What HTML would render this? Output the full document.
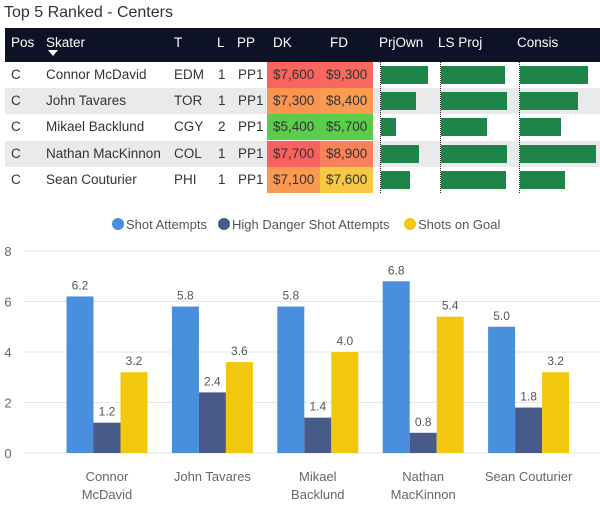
<!DOCTYPE html>
<html><head><meta charset="utf-8"><style>
body{margin:0;width:600px;height:513px;background:#fff;font-family:"Liberation Sans",sans-serif;position:relative;overflow:hidden}
.a{position:absolute;white-space:nowrap}
</style></head><body>
<div class="a" style="left:4px;top:4px;font-size:16px;color:#333">Top 5 Ranked - Centers</div>
<div id="tbl"></div>
<svg id="ch" width="600" height="513" style="position:absolute;left:0;top:0"></svg>
<script>
// table data
const names=["Connor McDavid","John Tavares","Mikael Backlund","Nathan MacKinnon","Sean Couturier"];
const teams=["EDM","TOR","CGY","COL","PHI"];
const lines=["1","1","2","1","1"];
const dk=["$7,600","$7,300","$5,400","$7,700","$7,100"];
const fd=["$9,300","$8,400","$5,700","$8,900","$7,600"];
const dkCol=["#f8645e","#f99551","#5acd4b","#f8625e","#f99a50"];
const fdCol=["#f8685e","#f99c50","#5acd4b","#f8835a","#f6c843"];
const prjOwn=[47,35,15,38,29];
const lsProj=[64,66,46,66,65];
const consis=[68,58,41,76,45];
// chart data
const cats=[["Connor","McDavid"],["John Tavares"],["Mikael","Backlund"],["Nathan","MacKinnon"],["Sean Couturier"]];
const shotAtt=[6.2,5.8,5.8,6.8,5.0];
const hdsa=[1.2,2.4,1.4,0.8,1.8];
const sog=[3.2,3.6,4.0,5.4,3.2];
const yTicks=[0,2,4,6,8];

const T=document.getElementById('tbl');
function div(st,txt,name,inter){const d=document.createElement('div');d.className='a';d.style.cssText=st;if(txt!=null)d.textContent=txt;


T.appendChild(d);return d;}
div('left:5px;top:28px;width:595px;height:34px;background:#0d1226','', 'table-header',false);
const hdr=[["Pos",11],["Skater",46],["T",174],["L",217],["PP",237],["DK",273],["FD",330],["PrjOwn",379],["LS Proj",438],["Consis",517]];
hdr.forEach(h=>{div(`left:${h[1]}px;top:35px;font-size:13.5px;color:#fff`,h[0],'header-'+h[0].toLowerCase().replace(' ','-'),true);});
div('left:48px;top:50px;width:0;height:0;border-left:5px solid transparent;border-right:5px solid transparent;border-top:6px solid #fff','', 'sort-arrow',true);
const rowY=r=>62+r*26.2;
names.forEach((n,r)=>{
 const y=rowY(r);
 if(r%2==1) div(`left:5px;top:${y}px;width:595px;height:26px;background:#e9eaec`,'','row-bg',false);
 div(`left:267px;top:${y}px;width:53px;height:26px;background:${dkCol[r]}`,'','dk-cell',false);
 div(`left:320px;top:${y}px;width:53px;height:26px;background:${fdCol[r]}`,'','fd-cell',false);
 const ty=y+5,fs='font-size:13.5px;color:#333;';
 div(`left:11px;top:${ty}px;`+fs,'C','pos',false);
 div(`left:46px;top:${ty}px;`+fs,n,'skater-name',false);
 div(`left:174px;top:${ty}px;`+fs,teams[r],'team',false);
 div(`left:218px;top:${ty}px;`+fs,lines[r],'line',false);
 div(`left:238px;top:${ty}px;`+fs,'PP1','pp',false);
 div(`left:273px;top:${ty}px;`+fs,dk[r],'dk-salary',false);
 div(`left:326px;top:${ty}px;`+fs,fd[r],'fd-salary',false);
 const bt=y+4;
 div(`left:381px;top:${bt}px;width:${prjOwn[r]}px;height:18px;background:#1e8449`,'','prjown-bar',false);
 div(`left:441px;top:${bt}px;width:${lsProj[r]}px;height:18px;background:#1e8449`,'','lsproj-bar',false);
 div(`left:520px;top:${bt}px;width:${consis[r]}px;height:18px;background:#1e8449`,'','consis-bar',false);
});
[380,440,519].forEach(x=>div(`left:${x}px;top:62px;height:131px;border-left:1px dotted #222`,'','bar-axis',false));

// chart
const S=document.getElementById('ch');const NS='http://www.w3.org/2000/svg';
function el(t,at,name,txt){const e=document.createElementNS(NS,t);for(const k in at)e.setAttribute(k,at[k]);if(txt!=null)e.textContent=txt;


S.appendChild(e);return e;}
const yS=v=>453-v*25.25;
const gx=i=>66.5+i*105.4;const bw=27;
yTicks.forEach(t=>{el('line',{x1:24,x2:600,y1:yS(t),y2:yS(t),stroke:'#e6e6e6','stroke-width':1},'gridline');
el('text',{x:8,y:yS(t)+5,'font-size':13,fill:'#666','text-anchor':'middle','font-family':'Liberation Sans'},'y-tick-label',t);});
const series=[[shotAtt,'#4a8fdd'],[hdsa,'#475a8a'],[sog,'#f2c80f']];
cats.forEach((c,i)=>{
 series.forEach((s,j)=>{const v=s[0][i];const x=gx(i)+j*bw;
  el('rect',{x:x,y:yS(v),width:bw,height:yS(0)-yS(v),fill:s[1]},'bar');
  el('text',{x:x+bw/2,y:yS(v)-7,'font-size':12,fill:'#555','text-anchor':'middle','font-family':'Liberation Sans'},'value-label',v.toFixed(1));});
 c.forEach((l,k)=>el('text',{x:gx(i)+bw*1.5,y:481+k*18,'font-size':13,fill:'#666','text-anchor':'middle','font-family':'Liberation Sans'},'category-label',l));
});
const leg=[["Shot Attempts",118,'#4a8fdd'],["High Danger Shot Attempts",224,'#475a8a'],["Shots on Goal",410,'#f2c80f']];
leg.forEach(l=>{el('circle',{cx:l[1],cy:224,r:6,fill:l[2]},'legend-marker');
el('text',{x:l[1]+8,y:229,'font-size':13,fill:'#555','font-family':'Liberation Sans'},'legend-entry',l[0]);});
</script>
</body></html>
